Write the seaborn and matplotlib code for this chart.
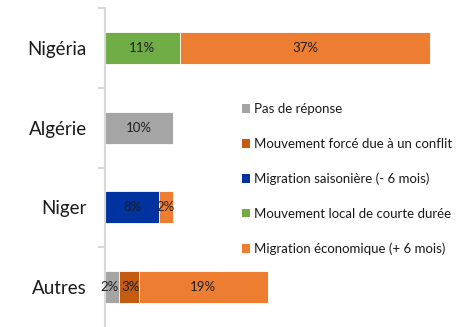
import matplotlib
matplotlib.use("Agg")
import matplotlib.pyplot as plt
from matplotlib.patches import Patch
from matplotlib.ticker import FixedLocator
import numpy as np
import pandas as pd
import seaborn as sns

# Destinations and share of respondents (%) per reason for leaving
categories = ["Nigéria", "Algérie", "Niger", "Autres"]
series_names = [
    "Pas de réponse",
    "Mouvement forcé due à un conflit",
    "Migration saisonière (- 6 mois)",
    "Mouvement local de courte durée",
    "Migration économique (+ 6 mois)",
]
pas_de_reponse = [0, 10, 0, 2]
mouvement_force = [0, 0, 0, 3]
migration_saisoniere = [0, 0, 8, 0]
mouvement_local = [11, 0, 0, 0]
migration_economique = [37, 0, 2, 19]

colors = ["#a5a5a5", "#c55a11", "#0033a0", "#70ad47", "#ed7d31"]

series_values = [pas_de_reponse, mouvement_force, migration_saisoniere,
                 mouvement_local, migration_economique]

sns.set_theme(style="white")
plt.rcParams["font.family"] = ["Lato", "DejaVu Sans"]

fig = plt.figure(figsize=(4.71, 3.27), dpi=100)
ax = fig.add_axes([105 / 471, 0.0, 1 - 105 / 471, 1 - 8 / 327])

vals = np.array(series_values, dtype=float)
cum = np.cumsum(vals, axis=0)

# Stacked bars: draw cumulative totals from the outermost segment inward
for i in range(len(series_names) - 1, -1, -1):
    df = pd.DataFrame({"cat": categories, "total": cum[i]})
    sns.barplot(data=df, x="total", y="cat", orient="h", color=colors[i],
                saturation=1, width=0.4, edgecolor="white", linewidth=0.6,
                ax=ax)

# Segment value labels; the two narrow neighbours in "Autres" are eased apart
label_shift = {(0, 3): -0.35, (1, 3): 0.3}
for i in range(len(series_names)):
    for j, cat in enumerate(categories):
        v = vals[i, j]
        if v <= 0:
            continue
        start = cum[i, j] - v
        ax.text(start + v / 2 + label_shift.get((i, j), 0.0), j,
                f"{int(v)}%", ha="center", va="center",
                fontsize=9.5, color="#1f1f1f", zorder=5)

ax.set_xlim(0, 54)
ax.set_ylim(3.5, -0.5)
ax.set_xlabel("")
ax.set_ylabel("")
ax.set_xticks([])

for side in ["top", "right", "bottom"]:
    ax.spines[side].set_visible(False)
ax.spines["left"].set_color("#d9d9d9")
ax.spines["left"].set_linewidth(1.5)

ax.tick_params(axis="y", which="major", length=0, pad=13, labelsize=13.5,
               labelcolor="#1a1a1a")
ax.yaxis.set_minor_locator(FixedLocator([-0.5, 0.5, 1.5, 2.5]))
ax.tick_params(axis="y", which="minor", length=5, width=1.5, color="#d9d9d9",
               left=True)

handles = [Patch(facecolor=c, edgecolor="none") for c in colors]
fig.legend(handles, series_names, loc="upper left",
           bbox_to_anchor=(237 / 471, 1 - 98 / 327), frameon=False,
           fontsize=9.5, handlelength=0.6, handleheight=0.6, handletextpad=0.3,
           labelspacing=1.72, borderaxespad=0, labelcolor="#1a1a1a")

fig.savefig("out.png", dpi=100)
